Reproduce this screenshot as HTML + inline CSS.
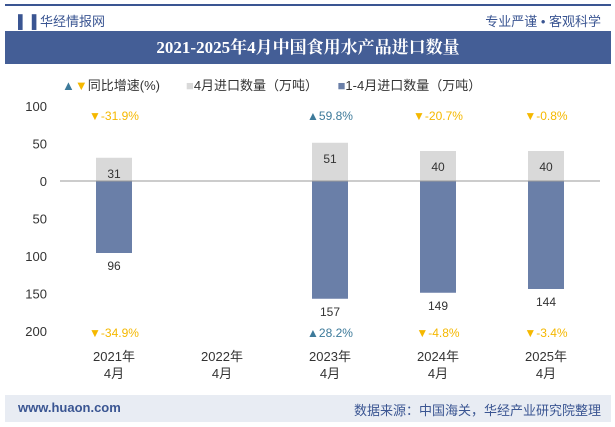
<!DOCTYPE html><html><head><meta charset="utf-8"><style>
body{margin:0;width:615px;height:427px;background:#fff;font-family:"Liberation Sans","Noto Sans CJK SC",sans-serif;position:relative;overflow:hidden}
.a{position:absolute}
</style></head><body>
<div class="a" style="left:5px;top:4px;width:606px;height:2px;background:#3a5592"></div>
<div class="a" style="left:18px;top:11px;font-size:13px;color:#3a5592">▌▐ 华经情报网</div>
<div class="a" style="right:14px;top:11px;font-size:13px;color:#3a5592">专业严谨 • 客观科学</div>
<div class="a" style="left:5px;top:31px;width:606px;height:33px;background:#445e96;color:#fff;font:bold 17px 'Liberation Serif','Noto Serif CJK SC',serif;text-align:center;line-height:33px">2021-2025年4月中国食用水产品进口数量</div>
<div class="a" style="left:62px;top:75px;font-size:13px;color:#333;white-space:nowrap">
<span style="color:#3d7a9a">▲</span><span style="color:#f5b800">▼</span>同比增速(%)　　<span style="color:#d9d9d9">■</span>4月进口数量（万吨）　　<span style="color:#6a7fa8">■</span>1-4月进口数量（万吨）</div>
<svg class="a" style="left:0;top:0" width="615" height="427" id="svg"></svg>
<div class="a" style="left:5px;top:395px;width:606px;height:27px;background:#e8ecf3"></div>
<div class="a" style="left:18px;top:400px;font-size:13px;color:#3a5592;font-weight:bold">www.huaon.com</div>
<div class="a" style="right:14px;top:400px;font-size:13px;color:#3a5592">数据来源：中国海关，华经产业研究院整理</div>
<script>
const cats=["2021年|4月","2022年|4月","2023年|4月","2024年|4月","2025年|4月"];
const monthVals=[31,null,51,40,40];
const ytdVals=[96,null,157,149,144];
const monthYoy=["-31.9%",null,"59.8%","-20.7%","-0.8%"];
const ytdYoy=["-34.9%",null,"28.2%","-4.8%","-3.4%"];
const ticks=[100,50,0,-50,-100,-150,-200];
const svg=document.getElementById('svg');const NS="http://www.w3.org/2000/svg";
const y=v=>181-v*0.75; const x=i=>114+i*108;
function el(t,a,txt){const e=document.createElementNS(NS,t);for(const k in a)e.setAttribute(k,a[k]);if(txt!=null)e.textContent=txt;svg.appendChild(e);return e;}
ticks.forEach(t=>{const e=el('text',{x:47,y:y(t)+5,'text-anchor':'end','font-size':13,fill:'#333'},Math.abs(t));});
cats.forEach((c,i)=>{const p=c.split('|');
const a=el('text',{x:x(i),y:361,'text-anchor':'middle','font-size':13,fill:'#333'},p[0]);
const b=el('text',{x:x(i),y:378,'text-anchor':'middle','font-size':13,fill:'#333'},p[1]);
if(monthVals[i]!=null){const r=el('rect',{x:x(i)-18,y:y(monthVals[i]),width:36,height:y(0)-y(monthVals[i]),fill:'#d9d9d9'});
const t=el('text',{x:x(i),y:y(monthVals[i])+20,'text-anchor':'middle','font-size':12,fill:'#333'},monthVals[i]);}
if(ytdVals[i]!=null){const r=el('rect',{x:x(i)-18,y:y(0),width:36,height:y(-ytdVals[i])-y(0),fill:'#6a7fa8'});
const t=el('text',{x:x(i),y:y(-ytdVals[i])+17,'text-anchor':'middle','font-size':12,fill:'#333'},ytdVals[i]);}
[[monthYoy[i],120],[ytdYoy[i],337]].forEach(([v,yy])=>{if(v==null)return;const up=v[0]!='-';
const t=el('text',{x:x(i),y:yy,'text-anchor':'middle','font-size':12,fill:up?'#3d7a9a':'#f5b800'},(up?'▲':'▼')+(up?v:v));});
});
const ax=el('line',{x1:60,x2:600,y1:y(0),y2:y(0),stroke:'#999','stroke-width':1});
</script></body></html>
